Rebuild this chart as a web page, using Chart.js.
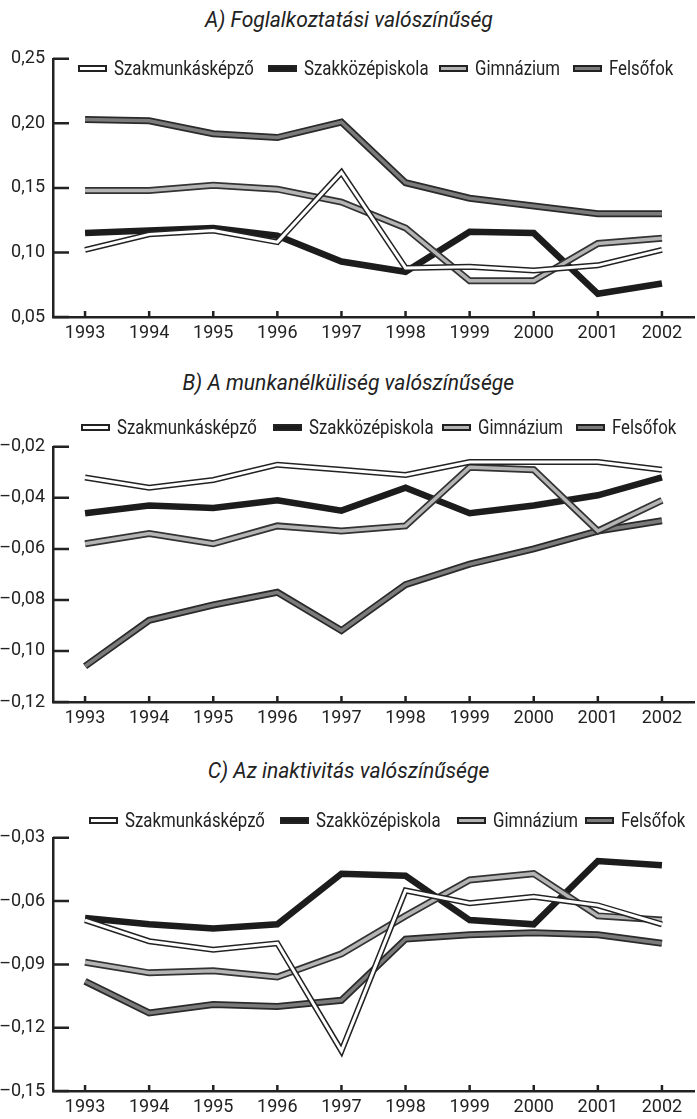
<!DOCTYPE html>
<html>
<head>
<meta charset="utf-8">
<script src="https://cdn.jsdelivr.net/npm/chart.js@4"></script>
<style>
  body { margin: 0; width: 697px; height: 1119px; overflow: hidden; background: #fff; position: relative;
         font-family: Roboto, 'Liberation Sans', sans-serif; color: #222; }
  .title { position: absolute; left: 0; width: 697px; text-align: center; font-style: italic;
           font-size: 21.5px; line-height: 26px; }
  .title span { display: inline-block; transform: scaleX(0.98); transform-origin: center center; }
  .legend { position: absolute; left: 0; width: 697px; height: 24px; }
  .item { position: absolute; top: 0; display: flex; align-items: center; height: 24px;
          font-size: 21px; line-height: 24px; white-space: nowrap; }
  .item .lbl { display: inline-block; transform: scaleX(0.8); transform-origin: left center; }
  .swatch { display: inline-block; width: 25px; height: 3px; border: 2px solid #222; margin-right: 7px; }
  .panel { position: absolute; left: 0; }
</style>
</head>
<body>

<div class="title" style="top:7px"><span>A) Foglalkoztatási valószínűség</span></div>
<div class="panel" style="top:40px"><canvas id="chartA" width="697" height="305"></canvas></div>
<div class="legend" id="legendA" style="top:56px"></div>

<div class="title" style="top:370px"><span>B) A munkanélküliség valószínűsége</span></div>
<div class="panel" style="top:428px"><canvas id="chartB" width="697" height="302"></canvas></div>
<div class="legend" id="legendB" style="top:415px"></div>

<div class="title" style="top:758px"><span>C) Az inaktivitás valószínűsége</span></div>
<div class="panel" style="top:819px"><canvas id="chartC" width="697" height="300"></canvas></div>
<div class="legend" id="legendC" style="top:808px"></div>

<script>
const years = ['1993', '1994', '1995', '1996', '1997', '1998', '1999', '2000', '2001', '2002'];
const seriesNames = ['Szakmunkásképző', 'Szakközépiskola', 'Gimnázium', 'Felsőfok'];

// A) Foglalkoztatási valószínűség
const aSzakmunkas = [0.102, 0.114, 0.117, 0.108, 0.162, 0.088, 0.089, 0.086, 0.090, 0.102];
const aSzakkozep  = [0.115, 0.117, 0.119, 0.113, 0.093, 0.085, 0.116, 0.115, 0.068, 0.076];
const aGimnazium  = [0.148, 0.148, 0.152, 0.149, 0.139, 0.119, 0.078, 0.078, 0.107, 0.111];
const aFelsofok   = [0.203, 0.202, 0.192, 0.189, 0.201, 0.154, 0.142, 0.136, 0.130, 0.130];
const aTicks = [0.05, 0.10, 0.15, 0.20, 0.25];

// B) A munkanélküliség valószínűsége
const bSzakmunkas = [-0.032, -0.036, -0.033, -0.027, -0.029, -0.031, -0.026, -0.026, -0.026, -0.029];
const bSzakkozep  = [-0.046, -0.043, -0.044, -0.041, -0.045, -0.036, -0.046, -0.043, -0.039, -0.032];
const bGimnazium  = [-0.058, -0.054, -0.058, -0.051, -0.053, -0.051, -0.028, -0.029, -0.053, -0.041];
const bFelsofok   = [-0.106, -0.088, -0.082, -0.077, -0.092, -0.074, -0.066, -0.060, -0.053, -0.049];
const bTicks = [-0.12, -0.10, -0.08, -0.06, -0.04, -0.02];

// C) Az inaktivitás valószínűsége
const cSzakmunkas = [-0.069, -0.079, -0.083, -0.080, -0.131, -0.055, -0.061, -0.058, -0.062, -0.071];
const cSzakkozep  = [-0.068, -0.071, -0.073, -0.071, -0.047, -0.048, -0.069, -0.071, -0.041, -0.043];
const cGimnazium  = [-0.089, -0.094, -0.093, -0.096, -0.085, -0.067, -0.050, -0.047, -0.067, -0.069];
const cFelsofok   = [-0.098, -0.113, -0.109, -0.110, -0.107, -0.078, -0.076, -0.075, -0.076, -0.080];
const cTicks = [-0.15, -0.12, -0.09, -0.06, -0.03];

const FONT = "Roboto, 'Liberation Sans', sans-serif";
const INK = '#222';
const swatchFill = ['#ffffff', '#1c1c1c', '#b4b4b4', '#7b7b7b'];

// draws tick marks pointing into the plot, as in the original
const innerTicks = {
    id: 'innerTicks',
    afterDatasetsDraw(chart) {
        const { ctx, chartArea, scales } = chart;
        ctx.save();
        ctx.strokeStyle = INK;
        ctx.lineWidth = 2.5;
        ctx.beginPath();
        scales.y.ticks.forEach(t => {
            const y = scales.y.getPixelForValue(t.value);
            ctx.moveTo(chartArea.left, y);
            ctx.lineTo(chartArea.left + 16, y);
        });
        scales.x.ticks.forEach((t, i) => {
            const x = scales.x.getPixelForTick(i);
            ctx.moveTo(x, chartArea.bottom);
            ctx.lineTo(x, chartArea.bottom - 6);
        });
        ctx.stroke();
        ctx.restore();
    }
};

function line(data, color, width, order) {
    return {
        data: data,
        borderColor: color,
        borderWidth: width,
        pointRadius: 0,
        tension: 0,
        fill: false,
        borderJoinStyle: 'miter',
        borderCapStyle: 'butt',
        order: order
    };
}

// outlined lines: dark outer stroke with a lighter stroke on top
function makeDatasets(szakmunkas, szakkozep, gimnazium, felsofok) {
    return [
        line(felsofok, '#2a2a2a', 7, 10),
        line(felsofok, '#7b7b7b', 3.5, 9),
        line(szakkozep, '#1c1c1c', 6.5, 8),
        line(gimnazium, '#333333', 7, 7),
        line(gimnazium, '#b4b4b4', 3.5, 6),
        line(szakmunkas, '#222222', 6, 5),
        line(szakmunkas, '#ffffff', 3, 4)
    ];
}

function fmt(v) {
    return v.toFixed(2).replace('.', ',').replace('-', '–');
}

function makeChart(id, datasets, tickValues) {
    const ctx = document.getElementById(id).getContext('2d');
    return new Chart(ctx, {
        type: 'line',
        data: { labels: years, datasets: datasets },
        options: {
            responsive: false,
            animation: false,
            devicePixelRatio: 1,
            layout: { padding: { top: 15, right: 3, left: 0, bottom: 0 } },
            plugins: {
                legend: { display: false },
                tooltip: { enabled: false },
                title: { display: false }
            },
            scales: {
                x: {
                    offset: true,
                    grid: { display: false, drawTicks: false },
                    border: { display: true, color: INK, width: 2.5 },
                    ticks: { font: { family: FONT, size: 18 }, color: INK, padding: 6, maxRotation: 0, autoSkip: false },
                    afterFit: (s) => { s.height = 28; }
                },
                y: {
                    min: tickValues[0],
                    max: tickValues[tickValues.length - 1],
                    afterBuildTicks: (s) => { s.ticks = tickValues.map(v => ({ value: v })); },
                    grid: { display: false, drawTicks: false },
                    border: { display: true, color: INK, width: 2.5 },
                    ticks: { font: { family: FONT, size: 18 }, color: INK, padding: 8, callback: (v) => fmt(v) },
                    afterFit: (s) => { s.width = 53; }
                }
            }
        },
        plugins: [innerTicks]
    });
}

function makeLegend(id, xs) {
    const box = document.getElementById(id);
    seriesNames.forEach((name, i) => {
        const item = document.createElement('div');
        item.className = 'item';
        item.style.left = xs[i] + 'px';
        const sw = document.createElement('span');
        sw.className = 'swatch';
        sw.style.background = swatchFill[i];
        const label = document.createElement('span');
        label.className = 'lbl';
        label.textContent = name;
        item.appendChild(sw);
        item.appendChild(label);
        box.appendChild(item);
    });
}

makeChart('chartA', makeDatasets(aSzakmunkas, aSzakkozep, aGimnazium, aFelsofok), aTicks);
makeChart('chartB', makeDatasets(bSzakmunkas, bSzakkozep, bGimnazium, bFelsofok), bTicks);
makeChart('chartC', makeDatasets(cSzakmunkas, cSzakkozep, cGimnazium, cFelsofok), cTicks);

makeLegend('legendA', [78, 268, 439, 573]);
makeLegend('legendB', [81, 273, 442, 576]);
makeLegend('legendC', [89, 280, 457, 585]);
</script>
</body>
</html>
